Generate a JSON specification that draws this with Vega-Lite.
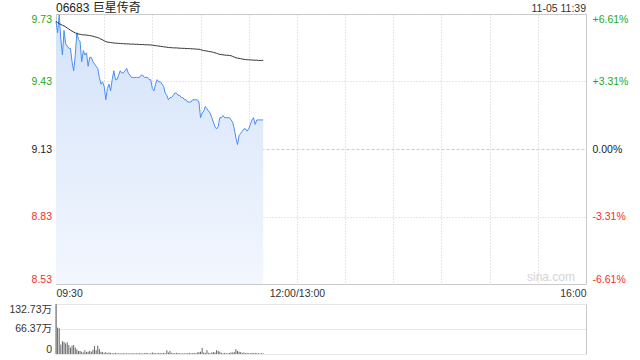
{
  "$schema": "https://vega.github.io/schema/vega-lite/v6.json",
  "padding": {"left": 8, "top": 1, "right": 5, "bottom": 4},
  "bounds": "flush",
  "spacing": 20,
  "datasets": {
    "d": [
      {"m":0,"p":9.70,"a":9.700,"v":132.73},{"m":1,"p":9.65,"a":9.695,"v":70},{"m":2,"p":9.73,"a":9.690,"v":68},{"m":3,"p":9.62,"a":9.687,"v":25},{"m":4,"p":9.55,"a":9.683,"v":34},
      {"m":5,"p":9.66,"a":9.680,"v":32},{"m":6,"p":9.60,"a":9.676,"v":28},{"m":7,"p":9.59,"a":9.671,"v":31},{"m":8,"p":9.58,"a":9.666,"v":24},{"m":9,"p":9.58,"a":9.661,"v":17},
      {"m":10,"p":9.52,"a":9.657,"v":22},{"m":11,"p":9.48,"a":9.653,"v":24},{"m":12,"p":9.55,"a":9.649,"v":17},{"m":13,"p":9.65,"a":9.645,"v":12},{"m":14,"p":9.62,"a":9.644,"v":8},
      {"m":15,"p":9.61,"a":9.643,"v":8},{"m":16,"p":9.52,"a":9.641,"v":6},{"m":17,"p":9.57,"a":9.640,"v":4},{"m":18,"p":9.55,"a":9.640,"v":10},{"m":19,"p":9.56,"a":9.639,"v":5},
      {"m":20,"p":9.50,"a":9.638,"v":6},{"m":21,"p":9.54,"a":9.637,"v":8},{"m":22,"p":9.54,"a":9.636,"v":6},{"m":23,"p":9.52,"a":9.634,"v":11},{"m":24,"p":9.51,"a":9.632,"v":21},
      {"m":25,"p":9.50,"a":9.630,"v":10},{"m":26,"p":9.49,"a":9.628,"v":22},{"m":27,"p":9.45,"a":9.625,"v":13},{"m":28,"p":9.42,"a":9.621,"v":6},{"m":29,"p":9.43,"a":9.618,"v":5},
      {"m":30,"p":9.41,"a":9.614,"v":3},{"m":31,"p":9.35,"a":9.610,"v":5},{"m":32,"p":9.40,"a":9.608,"v":2},{"m":33,"p":9.42,"a":9.607,"v":4},{"m":34,"p":9.39,"a":9.606,"v":3},
      {"m":35,"p":9.44,"a":9.605,"v":2},{"m":36,"p":9.48,"a":9.604,"v":2},{"m":37,"p":9.44,"a":9.603,"v":3},{"m":38,"p":9.44,"a":9.603,"v":2},{"m":39,"p":9.46,"a":9.602,"v":2},
      {"m":40,"p":9.48,"a":9.602,"v":1.5},{"m":41,"p":9.47,"a":9.601,"v":2},{"m":42,"p":9.47,"a":9.601,"v":2},{"m":43,"p":9.48,"a":9.600,"v":1.5},{"m":44,"p":9.49,"a":9.600,"v":2},
      {"m":45,"p":9.47,"a":9.600,"v":1.5},{"m":46,"p":9.46,"a":9.599,"v":2},{"m":47,"p":9.45,"a":9.599,"v":1.5},{"m":48,"p":9.45,"a":9.599,"v":2},{"m":49,"p":9.45,"a":9.598,"v":1.5},
      {"m":50,"p":9.45,"a":9.598,"v":2},{"m":51,"p":9.45,"a":9.598,"v":1.5},{"m":52,"p":9.45,"a":9.597,"v":2},{"m":53,"p":9.46,"a":9.597,"v":2},{"m":54,"p":9.46,"a":9.597,"v":1.5},
      {"m":55,"p":9.45,"a":9.596,"v":2},{"m":56,"p":9.45,"a":9.596,"v":3},{"m":57,"p":9.45,"a":9.596,"v":2},{"m":58,"p":9.44,"a":9.595,"v":1.5},{"m":59,"p":9.44,"a":9.595,"v":2},
      {"m":60,"p":9.40,"a":9.594,"v":4},{"m":61,"p":9.39,"a":9.593,"v":3},{"m":62,"p":9.42,"a":9.592,"v":2},{"m":63,"p":9.44,"a":9.591,"v":2},{"m":64,"p":9.43,"a":9.590,"v":3},
      {"m":65,"p":9.43,"a":9.589,"v":2},{"m":66,"p":9.42,"a":9.588,"v":2},{"m":67,"p":9.41,"a":9.587,"v":3},{"m":68,"p":9.38,"a":9.586,"v":2},{"m":69,"p":9.37,"a":9.585,"v":10},
      {"m":70,"p":9.35,"a":9.584,"v":4},{"m":71,"p":9.36,"a":9.583,"v":8},{"m":72,"p":9.36,"a":9.583,"v":3},{"m":73,"p":9.37,"a":9.582,"v":2},{"m":74,"p":9.38,"a":9.582,"v":2},
      {"m":75,"p":9.38,"a":9.582,"v":3},{"m":76,"p":9.37,"a":9.581,"v":2},{"m":77,"p":9.37,"a":9.581,"v":2},{"m":78,"p":9.36,"a":9.580,"v":1.5},{"m":79,"p":9.36,"a":9.580,"v":2},
      {"m":80,"p":9.35,"a":9.580,"v":1.5},{"m":81,"p":9.35,"a":9.579,"v":2},{"m":82,"p":9.34,"a":9.579,"v":2},{"m":83,"p":9.34,"a":9.579,"v":3},{"m":84,"p":9.34,"a":9.578,"v":2},
      {"m":85,"p":9.35,"a":9.578,"v":2},{"m":86,"p":9.35,"a":9.577,"v":3},{"m":87,"p":9.35,"a":9.577,"v":2},{"m":88,"p":9.35,"a":9.576,"v":4},{"m":89,"p":9.34,"a":9.576,"v":5},
      {"m":90,"p":9.27,"a":9.574,"v":6},{"m":91,"p":9.29,"a":9.572,"v":16},{"m":92,"p":9.30,"a":9.570,"v":4},{"m":93,"p":9.32,"a":9.569,"v":3},{"m":94,"p":9.31,"a":9.568,"v":10},
      {"m":95,"p":9.30,"a":9.566,"v":3},{"m":96,"p":9.29,"a":9.565,"v":2},{"m":97,"p":9.27,"a":9.564,"v":4},{"m":98,"p":9.25,"a":9.562,"v":5},{"m":99,"p":9.23,"a":9.560,"v":4},
      {"m":100,"p":9.22,"a":9.558,"v":10},{"m":101,"p":9.23,"a":9.555,"v":8},{"m":102,"p":9.27,"a":9.553,"v":6},{"m":103,"p":9.27,"a":9.552,"v":3},{"m":104,"p":9.28,"a":9.551,"v":2},
      {"m":105,"p":9.27,"a":9.550,"v":3},{"m":106,"p":9.27,"a":9.549,"v":2},{"m":107,"p":9.27,"a":9.549,"v":2},{"m":108,"p":9.27,"a":9.548,"v":3},{"m":109,"p":9.26,"a":9.547,"v":4},
      {"m":110,"p":9.25,"a":9.544,"v":4},{"m":111,"p":9.22,"a":9.541,"v":5},{"m":112,"p":9.18,"a":9.538,"v":13},{"m":113,"p":9.15,"a":9.536,"v":8},{"m":114,"p":9.19,"a":9.535,"v":6},
      {"m":115,"p":9.20,"a":9.534,"v":5},{"m":116,"p":9.21,"a":9.532,"v":3},{"m":117,"p":9.22,"a":9.531,"v":4},{"m":118,"p":9.22,"a":9.530,"v":2},{"m":119,"p":9.21,"a":9.529,"v":3},
      {"m":120,"p":9.22,"a":9.529,"v":2},{"m":121,"p":9.24,"a":9.528,"v":2},{"m":122,"p":9.26,"a":9.528,"v":3},{"m":123,"p":9.27,"a":9.527,"v":2},{"m":124,"p":9.24,"a":9.527,"v":3},
      {"m":125,"p":9.26,"a":9.527,"v":2},{"m":126,"p":9.26,"a":9.526,"v":2},{"m":127,"p":9.26,"a":9.526,"v":1.5},{"m":128,"p":9.26,"a":9.526,"v":2},{"m":129,"p":9.26,"a":9.526,"v":1.5}
    ],
    "ttl": [{"m": 0, "label": "06683 巨星传奇"}],
    "hdr": [{"m": 330, "label": "11-05 11:39"}],
    "wm": [{"m": 330, "label": "sina.com"}]
  },
  "config": {
    "font": "Liberation Sans",
    "axis": {
      "labelFont": "Liberation Sans, Noto Sans CJK SC",
      "labelFontSize": 10.5,
      "labelColor": "#333333",
      "ticks": false,
      "tickSize": 0,
      "domain": false,
      "gridColor": "#cccccc",
      "gridDash": [1, 2],
      "gridWidth": 1,
      "title": null
    },
    "view": {"stroke": null}
  },
  "vconcat": [
    {
      "width": 530,
      "height": 270,
      "view": {"stroke": "#c8c8c8"},
      "data": {"name": "d"},
      "encoding": {
        "x": {
          "field": "m", "type": "quantitative",
          "scale": {"domain": [0, 330], "nice": false, "zero": false},
          "axis": {
            "values": [0, 30, 60, 90, 120, 150, 180, 210, 240, 270, 300, 330],
            "grid": true,
            "labelFlush": true,
            "labelPadding": 4,
            "labelExpr": "datum.value == 0 ? '09:30' : datum.value == 150 ? '12:00/13:00' : datum.value == 330 ? '16:00' : ''"
          }
        }
      },
      "layer": [
        {
          "mark": {"type": "area", "line": false, "color": {"gradient": "linear", "x1": 0, "y1": 0, "x2": 0, "y2": 1, "stops": [{"offset": 0, "color": "#d3e2f9"}, {"offset": 1, "color": "#f3f7fe"}]}},
          "encoding": {
            "y": {
              "field": "p", "type": "quantitative",
              "scale": {"domain": [8.52651, 9.73349], "nice": false, "zero": false},
              "axis": {
                "orient": "left",
                "values": [8.52651, 8.8282, 9.13, 9.4318, 9.73349],
                "grid": true,
                "gridDash": {"condition": {"test": "abs(datum.value - 9.13) < 0.001", "value": [3, 2]}, "value": [1, 2]},
                "labelFlush": true,
                "labelPadding": 4.5,
                "format": ".2f",
                "labelColor": {"condition": [{"test": "datum.value > 9.131", "value": "#22a822"}, {"test": "datum.value < 9.129", "value": "#f03030"}], "value": "#222222"}
              }
            },
            "y2": {"datum": 8.52651}
          }
        },
        {
          "mark": {"type": "line", "color": "#4a8ef2", "strokeWidth": 1},
          "encoding": {
            "y": {
              "field": "p", "type": "quantitative",
              "axis": {
                "orient": "right",
                "values": [8.52651, 8.8282, 9.13, 9.4318, 9.73349],
                "grid": false,
                "labelFlush": true,
                "labelPadding": 6,
                "labelExpr": "(datum.value - 9.13) / 9.13 * 100 > 0.001 ? '+' + format((datum.value - 9.13) / 9.13 * 100, '.2f') + '%' : (datum.value - 9.13) / 9.13 * 100 < -0.001 ? '-' + format(abs((datum.value - 9.13) / 9.13 * 100), '.2f') + '%' : '0.00%'",
                "labelColor": {"condition": [{"test": "datum.value > 9.131", "value": "#22a822"}, {"test": "datum.value < 9.129", "value": "#f03030"}], "value": "#222222"}
              }
            }
          }
        },
        {
          "mark": {"type": "line", "color": "#333333", "strokeWidth": 1},
          "encoding": {"y": {"field": "a", "type": "quantitative", "axis": null}}
        },
        {
          "data": {"name": "ttl"},
          "mark": {"type": "text", "align": "left", "baseline": "alphabetic", "dy": -2.5, "fontSize": 12, "font": "Liberation Sans, Noto Sans CJK SC", "color": "#222222"},
          "encoding": {"y": {"datum": 9.73349, "type": "quantitative", "axis": null}, "text": {"field": "label"}}
        },
        {
          "data": {"name": "hdr"},
          "mark": {"type": "text", "align": "right", "baseline": "alphabetic", "dy": -2.5, "fontSize": 10.5, "color": "#333333"},
          "encoding": {"y": {"datum": 9.73349, "type": "quantitative", "axis": null}, "text": {"field": "label"}}
        },
        {
          "data": {"name": "wm"},
          "mark": {"type": "text", "align": "right", "baseline": "alphabetic", "dx": -11, "dy": -3, "fontSize": 12, "color": "#d4d4d4"},
          "encoding": {"y": {"datum": 8.52651, "type": "quantitative", "axis": null}, "text": {"field": "label"}}
        }
      ],
      "resolve": {"axis": {"y": "independent"}}
    },
    {
      "width": 530,
      "height": 50,
      "data": {"name": "d"},
      "encoding": {
        "x": {"field": "m", "type": "quantitative", "scale": {"domain": [0, 330], "nice": false, "zero": false}, "axis": null}
      },
      "layer": [
        {
          "mark": {"type": "rule", "color": "#666666", "strokeWidth": 1},
          "encoding": {
            "y": {
              "field": "v", "type": "quantitative",
              "scale": {"domain": [0, 132.73], "nice": false},
              "axis": {
                "orient": "left",
                "values": [0, 66.366, 132.73],
                "grid": true,
                "gridDash": [1, 1],
                "domain": true,
                "domainColor": "#c8c8c8",
                "labelFlush": true,
                "labelPadding": 4.5,
                "labelExpr": "datum.value == 0 ? '0' : format(datum.value, '.2f') + '万'"
              }
            },
            "y2": {"datum": 0}
          }
        },
        {
          "mark": {"type": "rule", "opacity": 0},
          "encoding": {
            "y": {"field": "v", "type": "quantitative", "axis": {"orient": "right", "labels": false, "grid": false, "domain": true, "domainColor": "#c8c8c8"}},
            "y2": {"datum": 0}
          }
        }
      ],
      "resolve": {"axis": {"y": "independent"}}
    }
  ]
}
